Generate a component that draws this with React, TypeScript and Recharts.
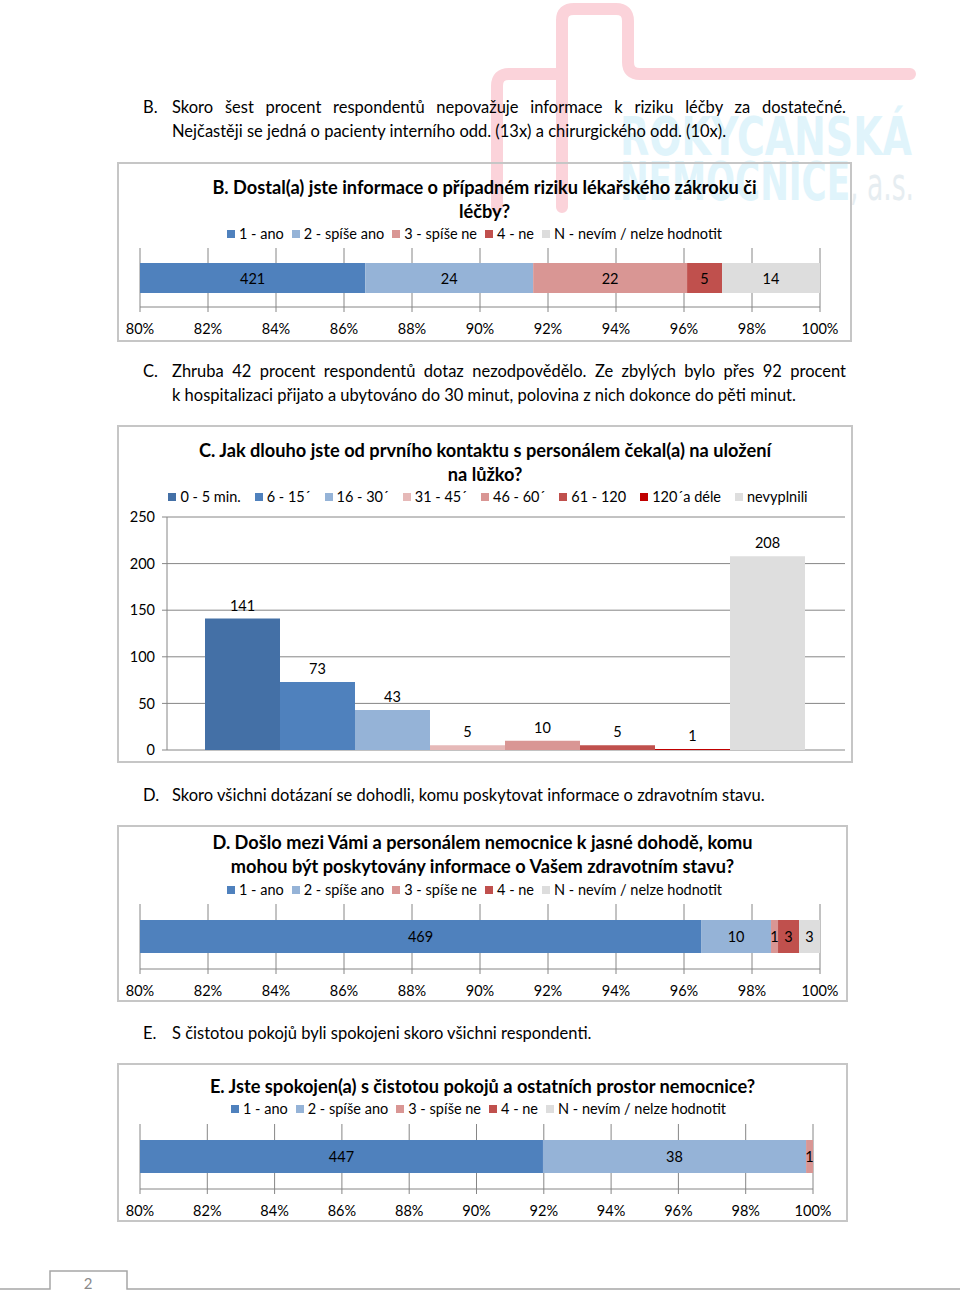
import { Bar, BarChart, CartesianGrid, LabelList, Legend, XAxis, YAxis } from 'recharts';

// shared answer scale for B, D, E
const RESPONSE_KEYS = ['ano', 'spiseAno', 'spiseNe', 'ne', 'nevim'];
const RESPONSE_LABELS = ['1 - ano', '2 - spíše ano', '3 - spíše ne', '4 - ne', 'N - nevím / nelze hodnotit'];
const RESPONSE_COLORS = ['#4f81bd', '#95b3d7', '#d99694', '#c0504d', '#dddddd'];

const B_COUNTS = [421, 24, 22, 5, 14];
const D_COUNTS = [469, 10, 1, 3, 3];
const E_COUNTS = [447, 38, 1, 0, 0];

const PERCENT_TICKS = [0.8, 0.82, 0.84, 0.86, 0.88, 0.9, 0.92, 0.94, 0.96, 0.98, 1];

// chart C
const WAIT_LABELS = ['0 - 5 min.', '6 - 15´', '16 - 30´', '31 - 45´', '46 - 60´', '61 - 120', '120´a déle', 'nevyplnili'];
const WAIT_COUNTS = [141, 73, 43, 5, 10, 5, 1, 208];
const WAIT_COLORS = ['#4470a6', '#4f81bd', '#95b3d7', '#e6b9b8', '#d99694', '#c0504d', '#c00000', '#dedede'];
const WAIT_TICKS = [0, 50, 100, 150, 200, 250];

const FONT = 'Lato, "Open Sans", sans-serif';
const AXIS_GREY = '#868686';
const TEXT_SIZE = 14.5;

type Box = { left: number; top: number; width: number; height: number };

// recharts sorts legend items by name, keep the series order instead
function ChartLegend({ payload, gap, order }: { payload?: any[]; gap: number; order: string[] }) {
  const items = [...(payload || [])].sort((a, b) => order.indexOf(a.value) - order.indexOf(b.value));
  return (
    <div style={{ display: 'flex', justifyContent: 'center', fontSize: TEXT_SIZE, lineHeight: '18px', color: '#000', whiteSpace: 'nowrap' }}>
      {items.map((p, i) => (
        <span key={p.value} style={{ display: 'inline-flex', alignItems: 'center', marginRight: i === items.length - 1 ? 0 : gap }}>
          <span style={{ width: 8, height: 8, background: p.color, marginRight: 4, display: 'inline-block' }} />
          {p.value}
        </span>
      ))}
    </div>
  );
}

function ChartTitle({ box, lines, centerY }: { box: Box; lines: string[]; centerY: number }) {
  return (
    <div
      style={{
        position: 'absolute',
        left: box.left,
        width: box.width,
        top: centerY - 12,
        textAlign: 'center',
        fontWeight: 700,
        fontSize: 18.2,
        lineHeight: '24px',
        color: '#000',
        zIndex: 2,
      }}
    >
      {lines.map((l) => (
        <div key={l} style={{ whiteSpace: 'nowrap' }}>{l}</div>
      ))}
    </div>
  );
}

interface StackedProps {
  counts: number[];
  box: Box;
  plotLeft: number;
  plotRight: number;
  gridTop: number;
  axisY: number;
  barSize: number;
  title: string[];
  titleY: number;
  legendY: number;
  legendShift: number;
}

// 100% stacked single bar, x axis cut to 80-100 % like the Excel original
function StackedShareChart({ counts, box, plotLeft, plotRight, gridTop, axisY, barSize, title, titleY, legendY, legendShift }: StackedProps) {
  const total = counts.reduce((a, b) => a + b, 0);
  const row: Record<string, number | string> = { name: 'q' };
  RESPONSE_KEYS.forEach((k, i) => {
    row[k] = counts[i] / total;
  });
  const xAxisHeight = 32;
  const margin = {
    top: gridTop - box.top,
    left: plotLeft - box.left,
    right: box.left + box.width - plotRight,
    bottom: box.top + box.height - axisY - xAxisHeight,
  };

  const segLabel = (count: number) => (props: any) => {
    if (!count) return null;
    const x = Number(props.x);
    const w = Number(props.width);
    const x0 = Math.max(x, plotLeft - box.left);
    const x1 = Math.min(x + w, plotRight - box.left);
    return (
      <text
        x={(x0 + x1) / 2}
        y={Number(props.y) + Number(props.height) / 2}
        textAnchor="middle"
        dominantBaseline="central"
        fontSize={TEXT_SIZE}
        fill="#000"
      >
        {count}
      </text>
    );
  };

  return (
    <>
      <ChartTitle box={box} lines={title} centerY={titleY} />
      <div style={{ position: 'absolute', left: box.left, top: box.top, zIndex: 1 }}>
        <BarChart layout="vertical" width={box.width} height={box.height} data={[row]} margin={margin}>
          <CartesianGrid horizontal={false} stroke={AXIS_GREY} />
          <XAxis
            type="number"
            domain={[0.8, 1]}
            allowDataOverflow
            ticks={PERCENT_TICKS}
            interval={0}
            height={xAxisHeight}
            tickFormatter={(v: number) => `${Math.round(v * 100)}%`}
            tick={{ fontSize: TEXT_SIZE, fill: '#000' }}
            tickSize={5}
            tickMargin={12}
            stroke={AXIS_GREY}
          />
          <YAxis type="category" dataKey="name" hide />
          <Legend
            layout="horizontal"
            align="center"
            verticalAlign="middle"
            wrapperStyle={{ top: legendY - box.top - 9, left: legendShift, width: box.width }}
            content={(p: any) => <ChartLegend payload={p.payload} gap={8} order={RESPONSE_LABELS} />}
          />
          {RESPONSE_KEYS.map((k, i) => (
            <Bar
              key={k}
              dataKey={k}
              name={RESPONSE_LABELS[i]}
              stackId="s"
              fill={RESPONSE_COLORS[i]}
              barSize={barSize}
              isAnimationActive={false}
              label={segLabel(counts[i])}
            />
          ))}
        </BarChart>
      </div>
    </>
  );
}

function WaitChart() {
  const box: Box = { left: 117, top: 425, width: 736, height: 338 };
  const row: Record<string, number | string> = { name: 'c' };
  WAIT_COUNTS.forEach((v, i) => {
    row[`w${i}`] = v;
  });
  return (
    <>
      <ChartTitle
        box={box}
        lines={['C. Jak dlouho jste od prvního kontaktu s personálem čekal(a) na uložení', 'na lůžko?']}
        centerY={450}
      />
      <div style={{ position: 'absolute', left: box.left, top: box.top, zIndex: 1 }}>
        <BarChart
          width={box.width}
          height={box.height}
          data={[row]}
          margin={{ top: 92, left: 5, right: 8, bottom: 13 }}
          barGap={0}
          barCategoryGap={38}
        >
          <CartesianGrid vertical={false} stroke={AXIS_GREY} />
          <XAxis dataKey="name" hide />
          <YAxis
            domain={[0, 250]}
            ticks={WAIT_TICKS}
            interval={0}
            width={45}
            tick={{ fontSize: TEXT_SIZE, fill: '#000' }}
            tickSize={5}
            tickMargin={7}
            stroke={AXIS_GREY}
          />
          <Legend
            layout="horizontal"
            align="center"
            verticalAlign="middle"
            wrapperStyle={{ top: 497 - box.top - 9, left: 3, width: box.width }}
            content={(p: any) => <ChartLegend payload={p.payload} gap={14} order={WAIT_LABELS} />}
          />
          {WAIT_LABELS.map((name, i) => (
            <Bar key={name} dataKey={`w${i}`} name={name} fill={WAIT_COLORS[i]} isAnimationActive={false}>
              <LabelList dataKey={`w${i}`} position="top" offset={8} fontSize={TEXT_SIZE} fill="#000" />
            </Bar>
          ))}
        </BarChart>
      </div>
    </>
  );
}

function BoxFrame({ box }: { box: Box }) {
  return (
    <div
      style={{
        position: 'absolute',
        left: box.left,
        top: box.top,
        width: box.width,
        height: box.height,
        boxSizing: 'border-box',
        border: '2px solid #c6c6c6',
      }}
    />
  );
}

function Para({ tag, lines, centerY }: { tag: string; lines: { text: string; justify?: boolean }[]; centerY: number }) {
  return (
    <div style={{ position: 'absolute', left: 0, top: centerY - 12, width: 960, fontSize: 16.5, lineHeight: '24px', color: '#000', zIndex: 2 }}>
      <span style={{ position: 'absolute', left: 143, top: 0 }}>{tag}</span>
      {lines.map((l) => (
        <div
          key={l.text}
          style={{
            marginLeft: 172,
            width: 674,
            whiteSpace: 'nowrap',
            textAlign: l.justify ? 'justify' : 'left',
            textAlignLast: l.justify ? 'justify' : 'left',
          }}
        >
          {l.text}
        </div>
      ))}
    </div>
  );
}

function Watermark() {
  return (
    <svg width={960} height={1292} style={{ position: 'absolute', left: 0, top: 0, zIndex: 0 }}>
      <g fill="none" stroke="#fbd3da" strokeWidth={12} strokeLinecap="round" strokeLinejoin="round">
        <path d="M562 207 L562 20 Q562 9 574 9 L616 9 Q628 9 628 21 L628 62 Q628 74 640 74 L910 74" />
        <path d="M497 207 L497 86 Q497 74 509 74 L562 74" />
      </g>
      <g fontFamily='"DejaVu Sans Condensed", "Liberation Sans", sans-serif' fontWeight={700} fill="#e0f4fb">
        <text x={620} y={155} fontSize={54} textLength={292} lengthAdjust="spacingAndGlyphs">
          ROKYCANSKÁ
        </text>
        <text x={620} y={200} fontSize={54} textLength={230} lengthAdjust="spacingAndGlyphs">
          NEMOCNICE
        </text>
        <text x={850} y={200} fontSize={46} fontWeight={400} fill="#e6edf1" textLength={64} lengthAdjust="spacingAndGlyphs">
          , a.s.
        </text>
      </g>
    </svg>
  );
}

export default function App() {
  return (
    <div
      style={{
        position: 'absolute',
        left: 0,
        top: 0,
        width: 960,
        height: 1292,
        background: '#fff',
        overflow: 'hidden',
        fontFamily: FONT,
      }}
    >
      <Watermark />

      <Para
        tag="B."
        centerY={107}
        lines={[
          { text: 'Skoro šest procent respondentů nepovažuje informace k riziku léčby za dostatečné.', justify: true },
          { text: 'Nejčastěji se jedná o pacienty interního odd. (13x) a chirurgického odd. (10x).' },
        ]}
      />
      <BoxFrame box={{ left: 117, top: 162, width: 735, height: 180 }} />
      <StackedShareChart
        counts={B_COUNTS}
        box={{ left: 117, top: 162, width: 735, height: 180 }}
        plotLeft={140}
        plotRight={820}
        gridTop={248}
        axisY={307}
        barSize={30}
        title={['B. Dostal(a) jste informace o případném riziku lékařského zákroku či', 'léčby?']}
        titleY={187}
        legendY={234}
        legendShift={-10}
      />

      <Para
        tag="C."
        centerY={371}
        lines={[
          { text: 'Zhruba 42 procent respondentů dotaz nezodpovědělo. Ze zbylých bylo přes 92 procent', justify: true },
          { text: 'k hospitalizaci přijato a ubytováno do 30 minut, polovina z nich dokonce do pěti minut.' },
        ]}
      />
      <BoxFrame box={{ left: 117, top: 425, width: 736, height: 338 }} />
      <WaitChart />

      <Para
        tag="D."
        centerY={795}
        lines={[{ text: 'Skoro všichni dotázaní se dohodli, komu poskytovat informace o zdravotním stavu.' }]}
      />
      <BoxFrame box={{ left: 117, top: 825, width: 731, height: 177 }} />
      <StackedShareChart
        counts={D_COUNTS}
        box={{ left: 117, top: 825, width: 731, height: 177 }}
        plotLeft={140}
        plotRight={820}
        gridTop={904}
        axisY={969}
        barSize={33}
        title={['D. Došlo mezi Vámi a personálem nemocnice k jasné dohodě, komu', 'mohou být poskytovány informace o Vašem zdravotním stavu?']}
        titleY={842}
        legendY={890}
        legendShift={-8}
      />

      <Para tag="E." centerY={1033} lines={[{ text: 'S čistotou pokojů byli spokojeni skoro všichni respondenti.' }]} />
      <BoxFrame box={{ left: 117, top: 1063, width: 731, height: 159 }} />
      <StackedShareChart
        counts={E_COUNTS}
        box={{ left: 117, top: 1063, width: 731, height: 159 }}
        plotLeft={140}
        plotRight={813}
        gridTop={1124}
        axisY={1189}
        barSize={33}
        title={['E. Jste spokojen(a) s čistotou pokojů a ostatních prostor nemocnice?']}
        titleY={1086}
        legendY={1109}
        legendShift={-4}
      />

      <svg width={960} height={1292} style={{ position: 'absolute', left: 0, top: 0, pointerEvents: 'none' }}>
        <path d="M0 1289 L50 1289 L50 1271 L127 1271 L127 1289 L960 1289" fill="none" stroke="#a6a6a6" strokeWidth={1.5} />
        <text x={88} y={1289} textAnchor="middle" fontSize={15} fill="#8a8a8a">
          2
        </text>
      </svg>
    </div>
  );
}
